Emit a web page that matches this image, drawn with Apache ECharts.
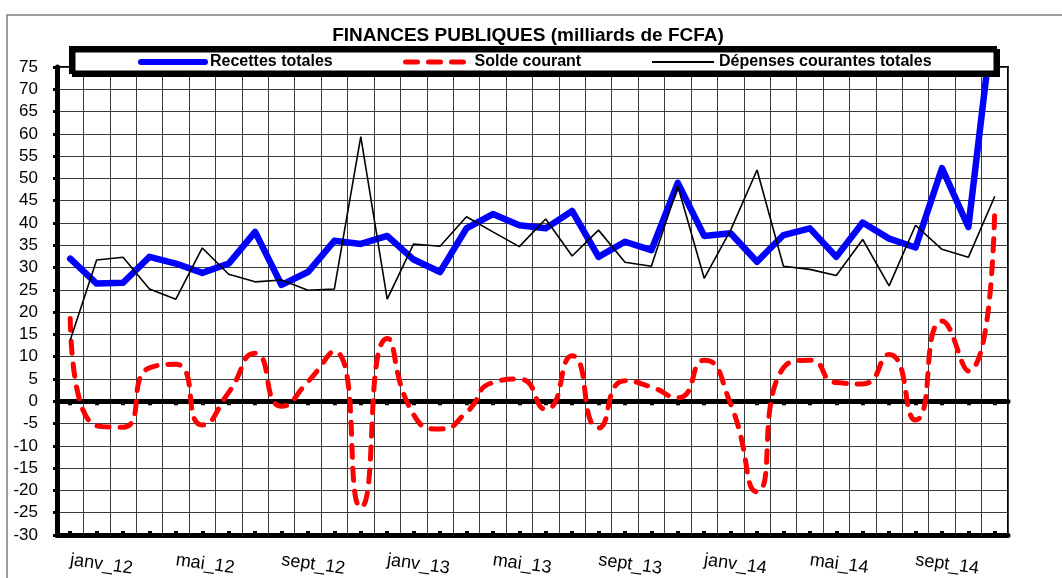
<!DOCTYPE html>
<html>
<head>
<meta charset="utf-8">
<title>Finances publiques</title>
<script src="https://cdn.jsdelivr.net/npm/echarts@6/dist/echarts.min.js"></script>
<style>
  html, body { margin: 0; padding: 0; background: #fff; }
  #chart { width: 1062px; height: 578px; }
</style>
</head>
<body>
<div id="chart"></div>
<script>
// Monthly public finance figures, billions of FCFA, Jan 2012 - Dec 2014
const months = [
  'janv_12', 'févr_12', 'mars_12', 'avr_12', 'mai_12', 'juin_12', 'juil_12', 'août_12', 'sept_12', 'oct_12', 'nov_12', 'déc_12',
  'janv_13', 'févr_13', 'mars_13', 'avr_13', 'mai_13', 'juin_13', 'juil_13', 'août_13', 'sept_13', 'oct_13', 'nov_13', 'déc_13',
  'janv_14', 'févr_14', 'mars_14', 'avr_14', 'mai_14', 'juin_14', 'juil_14', 'août_14', 'sept_14', 'oct_14', 'nov_14', 'déc_14'
];

const recettesTotales = [
  32.0, 26.4, 26.6, 32.4, 30.9, 28.8, 30.9, 38.0, 26.1, 29.0, 36.0, 35.3,
  37.1, 31.8, 29.0, 38.8, 42.0, 39.5, 38.8, 42.7, 32.4, 35.8, 33.9, 49.0,
  37.1, 37.7, 31.3, 37.3, 38.8, 32.4, 40.1, 36.5, 34.5, 52.3, 39.1, 89.0
];

const soldeCourant = [
  18.6, -5.5, -5.8, 7.5, 8.3, -5.3, 2.0, 10.8, -1.1, 4.4, 11.2, -23.8,
  14.1, -3.0, -6.2, -2.5, 4.2, 5.0, -1.8, 10.2, -6.0, 4.6, 3.2, 0.8,
  9.2, -0.6, -20.3, 7.5, 9.2, 4.2, 3.9, 10.5, -4.2, 18.0, 6.8, 43.6
];

const depensesCourantes = [
  13.7, 31.7, 32.3, 25.2, 22.9, 34.4, 28.5, 26.8, 27.2, 24.9, 25.2, 59.4,
  22.9, 35.3, 34.8, 41.4, 38.0, 34.7, 40.9, 32.6, 38.4, 31.2, 30.3, 48.3,
  27.6, 38.4, 51.9, 30.3, 29.6, 28.2, 36.3, 25.9, 39.5, 34.1, 32.3, 46.0
];

const yMin = -30, yMax = 75, yStep = 5;

const FONT = '"Liberation Sans", Arial, sans-serif';
const chart = echarts.init(document.getElementById('chart'), null, { renderer: 'canvas' });

// zero line of the value scale, carrying the monthly tick squares
function zeroAxis(inside) {
  return {
    type: 'category',
    data: months,
    position: 'bottom',
    boundaryGap: true,
    axisLine: { show: true, onZero: true, lineStyle: { color: '#000', width: 5 } },
    axisTick: { show: true, alignWithLabel: true, interval: 0, inside: inside, length: 4,
                lineStyle: { color: '#000', width: 4 } },
    axisLabel: { show: false },
    splitLine: { show: false }
  };
}

// one legend entry per series, placed along the boxed key
function legendEntry(name, left, width, lineWidth) {
  return {
    z: 20, left: left, top: 54, itemWidth: width, itemHeight: 14, padding: 0, itemGap: 0,
    data: [name],
    itemStyle: { opacity: 0 },
    lineStyle: { width: lineWidth, opacity: 1 },
    textStyle: { fontFamily: FONT, fontSize: 16, fontWeight: 'bold', color: '#000' }
  };
}

chart.setOption({
  animation: false,
  textStyle: { fontFamily: FONT, color: '#000' },
  title: {
    text: 'FINANCES PUBLIQUES (milliards de FCFA)',
    left: 528,
    top: 26,
    textAlign: 'center',
    padding: 0,
    textStyle: { fontFamily: FONT, fontSize: 19, fontWeight: 'bold', color: '#000' }
  },
  graphic: [
    {
      type: 'rect',
      z: -1,
      shape: { x: 7, y: 15, width: 1100, height: 620 },
      style: { fill: 'none', stroke: '#808080', lineWidth: 1.5 }
    },
    {
      type: 'rect',
      z: 10,
      shape: { x: 70.75, y: 47.75, width: 924.5, height: 24.5 },
      style: { fill: '#fff', stroke: '#000', lineWidth: 3.5,
               shadowColor: '#000', shadowOffsetX: 3, shadowOffsetY: 3, shadowBlur: 0 }
    }
  ],
  legend: [
    legendEntry('Recettes totales', 138, 64, 6),
    legendEntry('Solde courant', 403, 64, 5),
    legendEntry('Dépenses courantes totales', 651, 62, 2)
  ],
  grid: {
    left: 57, right: 54, top: 67, bottom: 43,
    show: true, borderColor: '#000', borderWidth: 2, backgroundColor: 'transparent',
    containLabel: false, outerBoundsMode: 'none'
  },
  xAxis: [
    zeroAxis(false),
    zeroAxis(true),
    {
      type: 'category',
      data: months,
      position: 'bottom',
      boundaryGap: true,
      axisLine: { show: true, onZero: false, lineStyle: { color: '#000', width: 3.5 } },
      axisTick: { show: false },
      axisLabel: {
        show: true, interval: 3, rotate: -8, margin: 25, hideOverlap: false,
        fontFamily: FONT, fontSize: 18, color: '#000'
      },
      splitLine: { show: true, interval: 0, lineStyle: { color: '#3a3a3a', width: 1 } }
    }
  ],
  yAxis: {
    type: 'value',
    min: yMin, max: yMax, interval: yStep,
    axisLine: { show: true, onZero: false, lineStyle: { color: '#000', width: 5 } },
    axisTick: { show: true, length: 4, lineStyle: { color: '#000', width: 3 } },
    axisLabel: { fontFamily: FONT, fontSize: 17, color: '#000', margin: 19 },
    splitLine: { show: true, lineStyle: { color: '#3a3a3a', width: 1 } }
  },
  series: [
    {
      name: 'Recettes totales',
      type: 'line',
      xAxisIndex: 2,
      data: recettesTotales,
      symbol: 'none',
      clip: true,
      lineStyle: { color: '#0000ff', width: 6.5, join: 'round', cap: 'round' },
      itemStyle: { color: '#0000ff' }
    },
    {
      name: 'Solde courant',
      type: 'line',
      xAxisIndex: 2,
      data: soldeCourant,
      symbol: 'none',
      smooth: 0.6,
      clip: true,
      lineStyle: { color: '#ff0000', width: 5, type: [12, 11], cap: 'round' },
      itemStyle: { color: '#ff0000' }
    },
    {
      name: 'Dépenses courantes totales',
      type: 'line',
      xAxisIndex: 2,
      data: depensesCourantes,
      symbol: 'none',
      clip: true,
      lineStyle: { color: '#000', width: 1.6 },
      itemStyle: { color: '#000' }
    }
  ]
});
</script>
</body>
</html>
